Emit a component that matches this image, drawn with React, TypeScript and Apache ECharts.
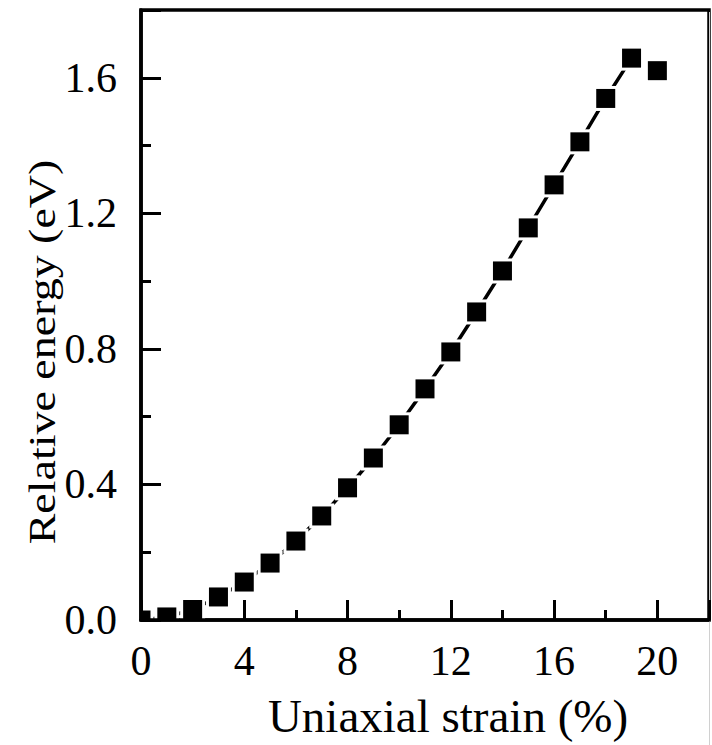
import { useEffect, useRef } from 'react';
import * as echarts from 'echarts';

// Uniaxial strain (%) and relative energy (eV)
const strain = [0, 1, 2, 3, 4, 5, 6, 7, 8, 9, 10, 11, 12, 13, 14, 15, 16, 17, 18, 19, 20];
const energy = [0.0, 0.009, 0.031, 0.068, 0.112, 0.168, 0.233, 0.307, 0.39, 0.478, 0.576, 0.682, 0.791, 0.909, 1.03, 1.157, 1.284, 1.411, 1.539, 1.658, 1.621];
// the guide line runs through the first 20 points (0..19 %)
const lineCount = 20;

const xMin = 0;
const xMax = 22;
const xMajor = 4;
const xMinor = 2;
const xLastLabel = 20;
const yMin = 0;
const yMax = 1.8;
const yMajor = 0.4;
const yMinor = 0.2;
const yLastLabel = 1.6;

const xTitle = 'Uniaxial strain (%)';
const yTitle = 'Relative energy (eV)';

const FONT = '"Liberation Serif", "Times New Roman", serif';

export default function App() {
  const ref = useRef<HTMLDivElement>(null);
  useEffect(() => {
    if (!ref.current) return;
    const chart = echarts.init(ref.current, undefined, { renderer: 'svg' });
    const lineData = strain.slice(0, lineCount).map((x, i) => [x, energy[i]]);
    const pointData = strain.map((x, i) => [x, energy[i]]);
    const axisLineStyle = { color: '#000', width: 3.5 };
    const option: any = {
      animation: false,
      backgroundColor: '#fff',
      grid: {
        left: 141,
        top: 10,
        right: -8,
        bottom: 125,
        show: true,
        borderColor: '#000',
        borderWidth: 3.5,
        backgroundColor: 'transparent',
      },
      xAxis: [
        {
          type: 'value',
          min: xMin,
          max: xMax,
          interval: xMajor,
          position: 'bottom',
          z: 5,
          axisLine: { show: true, lineStyle: axisLineStyle },
          axisTick: { show: true, inside: true, length: 20, lineStyle: { color: '#000', width: 3 } },
          axisLabel: {
            show: true,
            fontSize: 42,
            fontFamily: FONT,
            color: '#000',
            margin: 20,
            formatter: (v: number) => (v > xLastLabel ? '' : String(v)),
          },
          splitLine: { show: false },
        },
        {
          type: 'value',
          min: xMin,
          max: xMax,
          interval: xMinor,
          position: 'bottom',
          z: 5,
          axisLine: { show: false },
          axisTick: { show: true, inside: true, length: 10, lineStyle: { color: '#000', width: 3 } },
          axisLabel: { show: false },
          splitLine: { show: false },
        },
      ],
      yAxis: [
        {
          type: 'value',
          min: yMin,
          max: yMax,
          interval: yMajor,
          position: 'left',
          z: 5,
          axisLine: { show: true, lineStyle: axisLineStyle },
          axisTick: { show: true, inside: true, length: 20, lineStyle: { color: '#000', width: 3 } },
          axisLabel: {
            show: true,
            fontSize: 42,
            fontFamily: FONT,
            color: '#000',
            margin: 24,
            formatter: (v: number) => (v > yLastLabel + 1e-9 ? '' : v.toFixed(1)),
          },
          splitLine: { show: false },
        },
        {
          type: 'value',
          min: yMin,
          max: yMax,
          interval: yMinor,
          position: 'left',
          z: 5,
          axisLine: { show: false },
          axisTick: { show: true, inside: true, length: 10, lineStyle: { color: '#000', width: 3 } },
          axisLabel: { show: false },
          splitLine: { show: false },
        },
      ],
      series: [
        {
          type: 'line',
          xAxisIndex: 0,
          yAxisIndex: 0,
          data: lineData,
          showSymbol: false,
          symbol: 'none',
          clip: true,
          z: 1,
          lineStyle: { color: '#000', width: 3.5 },
        },
        {
          type: 'custom',
          xAxisIndex: 0,
          yAxisIndex: 0,
          data: pointData,
          clip: true,
          z: 3,
          renderItem: (_params: any, api: any) => {
            const p = api.coord([api.value(0), api.value(1)]);
            return {
              type: 'group',
              children: [
                {
                  type: 'rect',
                  shape: { x: p[0] - 12.5, y: p[1] - 12.5, width: 25, height: 25 },
                  style: { fill: '#fff' },
                },
                {
                  type: 'rect',
                  shape: { x: p[0] - 9.5, y: p[1] - 9.5, width: 19, height: 19 },
                  style: { fill: '#000' },
                },
              ],
            };
          },
        },
      ],
      graphic: [
        {
          type: 'text',
          x: 448,
          y: 716,
          style: {
            text: xTitle,
            fontSize: 47,
            fontFamily: FONT,
            fill: '#000',
            align: 'center',
            verticalAlign: 'middle',
          },
        },
        {
          type: 'text',
          x: 42,
          y: 352,
          rotation: Math.PI / 2,
          scaleY: 0.82,
          style: {
            text: yTitle,
            fontSize: 46,
            fontFamily: FONT,
            fill: '#000',
            align: 'center',
            verticalAlign: 'middle',
          },
        },
        {
          type: 'line',
          shape: { x1: 709.5, y1: 12, x2: 709.5, y2: 745 },
          style: { stroke: '#d0d0d0', lineWidth: 1 },
        },
      ],
    };
    chart.setOption(option);
    return () => chart.dispose();
  }, []);
  return (
    <div
      ref={ref}
      style={{ position: 'absolute', left: 0, top: 0, width: 712, height: 745, background: '#fff' }}
    />
  );
}
